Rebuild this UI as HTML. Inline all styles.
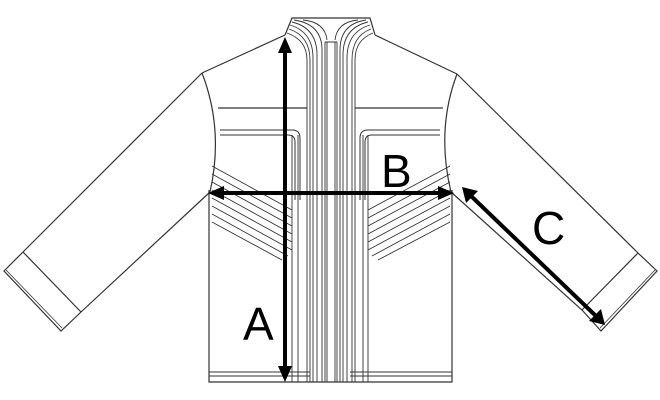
<!DOCTYPE html>
<html><head><style>html,body{margin:0;padding:0;background:#fff}svg{display:block}</style></head>
<body>
<svg width="660" height="400" viewBox="0 0 660 400" xmlns="http://www.w3.org/2000/svg">
<g fill="none" stroke="#333" stroke-width="1.2">
<!-- left sleeve -->
<path d="M202,73 L23,252 L4,271 L61,331 L81,312 L210,192"/>
<path d="M23,252 L81,312"/>
<path d="M6,270 L62,328" stroke-width="0.8"/>
<path d="M202,73 Q224,130 210,192"/>
<!-- right sleeve -->
<path d="M457,74 L638,253 L657,271 L601,331 L582,310 L451,192"/>
<path d="M638,253 L582,310"/>
<path d="M655,270 L600,328" stroke-width="0.8"/>
<path d="M457,74 Q436,130 451,192"/>
<!-- shoulders -->
<path d="M285,35 L202,73"/>
<path d="M375,35 L457,74"/>
<!-- body -->
<path d="M209,190 V382 H452 V190"/>
<path d="M209,372 H310 M350,372 H452 M209,376 H310 M350,376 H452" stroke-width="0.9"/>
<!-- yoke -->
<path d="M218,108 H307 M355,108 H443"/>
<path d="M220,130 H292 Q300,130 300,138 V200 M220,135 H288 Q295,135 295,142 V200" stroke-width="1"/>
<path d="M440,130 H368 Q360,130 360,138 V200 M440,135 H372 Q365,135 365,142 V200" stroke-width="1"/>
<!-- collar -->
<path d="M285,35 L292,18 H370 L375,35"/>
<g stroke-width="0.9">
<path d="M287,33 Q307,40 307,60 V382"/>
<path d="M289,29 Q310,36 310,60 V382"/>
<path d="M290,25 Q313,32 313,58 V382"/>
<path d="M292,22 Q317,28 317,55 V382"/>
<path d="M294,20 Q322,24 322,50 V382"/>
<path d="M373,33 Q355,40 355,60 V382"/>
<path d="M371,29 Q352,36 352,60 V382"/>
<path d="M370,25 Q347,32 347,58 V382"/>
<path d="M368,22 Q343,28 343,55 V382"/>
<path d="M366,20 Q340,24 340,50 V382"/>
<path d="M325,42 V382 M327,42 V382 M335,42 V382 M337,42 V382 M325,42 H337"/>
<path d="M303,20 Q325,22 327,40 M358,20 Q337,22 335,40"/>
<path d="M292,135 V382 M298,135 V382 M363,135 V382 M368,135 V382"/>
</g>
<!-- chevrons -->
<g stroke-width="0.9">
<path d="M212,166 L292,210 M212,174 L292,218 M212,182 L292,226 M212,190 L292,234 M212,198 L292,242 M212,206 L292,250 M212,214 L288,256 M212,222 L282,260"/>
<path d="M450,166 L368,210 M450,174 L368,218 M450,182 L368,226 M450,190 L368,234 M450,198 L368,242 M450,206 L368,250 M450,214 L372,256 M450,222 L378,260"/>
</g>
</g>
<!-- arrows -->
<g stroke="#000" stroke-width="4" fill="#000">
<line x1="285" y1="52" x2="285" y2="368"/>
<line x1="222" y1="193" x2="440" y2="193"/>
<line x1="470" y1="195" x2="597" y2="317"/>
</g>
<g fill="#000">
<polygon points="285,37 278,53 292,53"/>
<polygon points="285,382 278,366 292,366"/>
<polygon points="208,193 224,186 224,200"/>
<polygon points="454,193 438,186 438,200"/>
<polygon points="462,187 466,203 478,191"/>
<polygon points="605,325 589,321 601,309"/>
</g>
<g font-family="Liberation Sans, sans-serif" font-size="46" fill="#000">
<text x="243" y="340">A</text>
<text x="381" y="187">B</text>
<text x="532" y="244">C</text>
</g>
</svg>
</body></html>
